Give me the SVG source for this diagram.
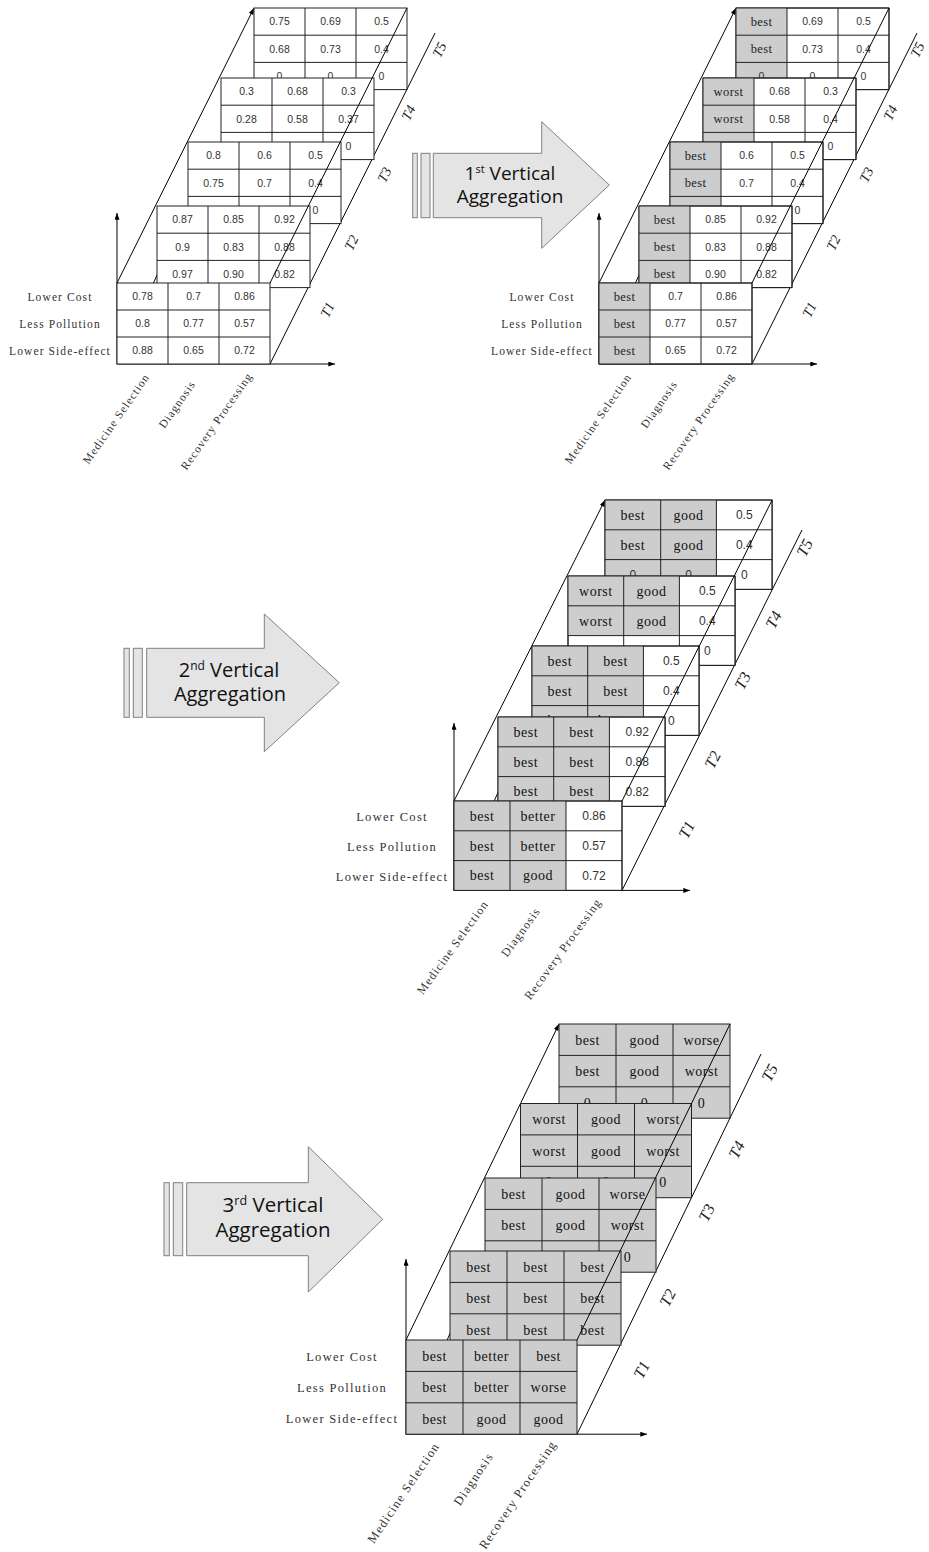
<svg xmlns="http://www.w3.org/2000/svg" width="929" height="1552" viewBox="0 0 929 1552">
<style>
.ln{stroke:#000;stroke-width:1;fill:none}
.tb{fill:#fff;stroke:#222;stroke-width:1}
.gy{fill:#cdcdcd;stroke:none}
.gr{stroke:#222;stroke-width:1;fill:none}
.n1{font-family:"Liberation Sans",Arial,sans-serif;font-size:10.5px;fill:#333;text-anchor:middle}
.w2{font-family:"Liberation Serif",serif;font-size:12.5px;letter-spacing:0.4px;fill:#222;text-anchor:middle}
.n3{font-family:"Liberation Sans",Arial,sans-serif;font-size:12px;fill:#333;text-anchor:middle}
.w3{font-family:"Liberation Serif",serif;font-size:14px;letter-spacing:0.5px;fill:#111;text-anchor:middle}
.lab1{font-family:"Liberation Serif",serif;font-size:11.5px;letter-spacing:1.1px;fill:#333;text-anchor:middle}
.lab3{font-family:"Liberation Serif",serif;font-size:12.5px;letter-spacing:1.3px;fill:#333;text-anchor:middle}
.col1{font-family:"Liberation Serif",serif;font-size:11.5px;letter-spacing:1px;fill:#333;text-anchor:end}
.col3{font-family:"Liberation Serif",serif;font-size:12px;letter-spacing:1.1px;fill:#333;text-anchor:end}
.col4{font-family:"Liberation Serif",serif;font-size:12.5px;letter-spacing:1.2px;fill:#333;text-anchor:end}
.tl1{font-family:"Liberation Serif",serif;font-style:italic;font-size:14px;fill:#222;text-anchor:middle}
.tl3{font-family:"Liberation Serif",serif;font-style:italic;font-size:16px;fill:#222;text-anchor:middle}
.arr{fill:#e4e4e4;stroke:#808080;stroke-width:1}
.at{font-family:"Open Sans","Noto Sans",sans-serif;fill:#111;text-anchor:middle}
</style>
<defs>
<marker id="ah" viewBox="0 0 8 6" refX="8" refY="3" markerWidth="7" markerHeight="5" markerUnits="userSpaceOnUse" orient="auto"><path d="M0 0L8 3L0 6z" fill="#000"/></marker>
</defs>
<rect width="929" height="1552" fill="#fff"/>

<!-- ========== Diagram 1 ========== -->
<g id="d1">
<g id="d1-connectors">
<path class="ln" d="M117 364V213" marker-end="url(#ah)"/>
<path class="ln" d="M117 364H335" marker-end="url(#ah)"/>
<path class="ln" d="M117 283L254 8" marker-end="url(#ah)"/>
<path class="ln" d="M117 364L162 264"/>
<path class="ln" d="M270 364L435 33"/>
</g>
<g id="d1-t5">
<rect class="tb" x="254" y="8" width="153" height="81.6"/>
<path class="gr" d="M305 8V89.6M356 8V89.6M254 35.2H407M254 62.4H407"/>
<text class="n1" x="279.5" y="25.4">0.75</text><text class="n1" x="330.5" y="25.4">0.69</text><text class="n1" x="381.5" y="25.4">0.5</text>
<text class="n1" x="279.5" y="52.6">0.68</text><text class="n1" x="330.5" y="52.6">0.73</text><text class="n1" x="381.5" y="52.6">0.4</text>
<text class="n1" x="279.5" y="79.8">0</text><text class="n1" x="330.5" y="79.8">0</text><text class="n1" x="381.5" y="79.8">0</text>
</g>
<g id="d1-t4">
<rect class="tb" x="221" y="78" width="153" height="81.6"/>
<path class="gr" d="M272 78V159.6M323 78V159.6M221 105.2H374M221 132.4H374"/>
<text class="n1" x="246.5" y="95.4">0.3</text><text class="n1" x="297.5" y="95.4">0.68</text><text class="n1" x="348.5" y="95.4">0.3</text>
<text class="n1" x="246.5" y="122.6">0.28</text><text class="n1" x="297.5" y="122.6">0.58</text><text class="n1" x="348.5" y="122.6">0.37</text>
<text class="n1" x="246.5" y="149.8">0</text><text class="n1" x="297.5" y="149.8">0</text><text class="n1" x="348.5" y="149.8">0</text>
</g>
<g id="d1-t3">
<rect class="tb" x="188" y="142" width="153" height="81.6"/>
<path class="gr" d="M239 142V223.6M290 142V223.6M188 169.2H341M188 196.4H341"/>
<text class="n1" x="213.5" y="159.4">0.8</text><text class="n1" x="264.5" y="159.4">0.6</text><text class="n1" x="315.5" y="159.4">0.5</text>
<text class="n1" x="213.5" y="186.6">0.75</text><text class="n1" x="264.5" y="186.6">0.7</text><text class="n1" x="315.5" y="186.6">0.4</text>
<text class="n1" x="213.5" y="213.8">0</text><text class="n1" x="264.5" y="213.8">0</text><text class="n1" x="315.5" y="213.8">0</text>
</g>
<g id="d1-t2">
<rect class="tb" x="157" y="206" width="153" height="81.6"/>
<path class="gr" d="M208 206V287.6M259 206V287.6M157 233.2H310M157 260.4H310"/>
<text class="n1" x="182.5" y="223.4">0.87</text><text class="n1" x="233.5" y="223.4">0.85</text><text class="n1" x="284.5" y="223.4">0.92</text>
<text class="n1" x="182.5" y="250.6">0.9</text><text class="n1" x="233.5" y="250.6">0.83</text><text class="n1" x="284.5" y="250.6">0.88</text>
<text class="n1" x="182.5" y="277.8">0.97</text><text class="n1" x="233.5" y="277.8">0.90</text><text class="n1" x="284.5" y="277.8">0.82</text>
</g>
<g id="d1-t1">
<rect class="tb" x="117" y="283" width="153" height="81"/>
<path class="gr" d="M168 283V364M219 283V364M117 310H270M117 337H270"/>
<text class="n1" x="142.5" y="300.3">0.78</text><text class="n1" x="193.5" y="300.3">0.7</text><text class="n1" x="244.5" y="300.3">0.86</text>
<text class="n1" x="142.5" y="327.3">0.8</text><text class="n1" x="193.5" y="327.3">0.77</text><text class="n1" x="244.5" y="327.3">0.57</text>
<text class="n1" x="142.5" y="354.3">0.88</text><text class="n1" x="193.5" y="354.3">0.65</text><text class="n1" x="244.5" y="354.3">0.72</text>
</g>
<g id="d1-front-edge"><path class="ln" d="M270 283L407 8"/></g>
<g id="d1-labels">
<text class="lab1" x="60" y="301">Lower Cost</text>
<text class="lab1" x="60" y="328">Less Pollution</text>
<text class="lab1" x="60" y="355">Lower Side-effect</text>
<text class="col1" transform="translate(150 377) rotate(-55)">Medicine Selection</text>
<text class="col1" transform="translate(196 384) rotate(-55)">Diagnosis</text>
<text class="col1" transform="translate(253 376) rotate(-55)">Recovery Processing</text>
<text class="tl1" transform="translate(328 310) rotate(-63)" y="4">T1</text>
<text class="tl1" transform="translate(352 243) rotate(-63)" y="4">T2</text>
<text class="tl1" transform="translate(385 175) rotate(-63)" y="4">T3</text>
<text class="tl1" transform="translate(409 113) rotate(-63)" y="4">T4</text>
<text class="tl1" transform="translate(440 50) rotate(-63)" y="4">T5</text>
</g>
</g>

<!-- ========== Arrow 1 ========== -->
<g id="arrow1">
<rect class="arr" x="412.7" y="153.3" width="4.6" height="64.4"/>
<rect class="arr" x="421" y="153.3" width="9" height="64.4"/>
<path class="arr" d="M433.3 153.3H541.7V121.7L609.3 185L541.7 248.3V217.7H433.3z"/>
<text class="at" font-size="19" x="510" y="180">1<tspan font-size="11" baseline-shift="7">st</tspan> Vertical</text>
<text class="at" font-size="19" x="510" y="203">Aggregation</text>
</g>

<!-- ========== Diagram 2 ========== -->
<g id="d2" transform="translate(482 0)">
<g id="d2-connectors">
<path class="ln" d="M117 364V213" marker-end="url(#ah)"/>
<path class="ln" d="M117 364H335" marker-end="url(#ah)"/>
<path class="ln" d="M117 283L254 8" marker-end="url(#ah)"/>
<path class="ln" d="M117 364L162 264"/>
<path class="ln" d="M270 364L435 33"/>
</g>
<g id="d2-t5">
<rect class="tb" x="254" y="8" width="153" height="81.6"/>
<rect class="gy" x="254" y="8" width="51" height="81.6"/>
<path class="gr" d="M254 8H407V89.6H254zM305 8V89.6M356 8V89.6M254 35.2H407M254 62.4H407"/>
<text class="w2" x="279.5" y="25.6">best</text><text class="n1" x="330.5" y="25.4">0.69</text><text class="n1" x="381.5" y="25.4">0.5</text>
<text class="w2" x="279.5" y="52.8">best</text><text class="n1" x="330.5" y="52.6">0.73</text><text class="n1" x="381.5" y="52.6">0.4</text>
<text class="n1" x="279.5" y="79.8">0</text><text class="n1" x="330.5" y="79.8">0</text><text class="n1" x="381.5" y="79.8">0</text>
</g>
<g id="d2-t4">
<rect class="tb" x="221" y="78" width="153" height="81.6"/>
<rect class="gy" x="221" y="78" width="51" height="81.6"/>
<path class="gr" d="M221 78H374V159.6H221zM272 78V159.6M323 78V159.6M221 105.2H374M221 132.4H374"/>
<text class="w2" x="246.5" y="95.6">worst</text><text class="n1" x="297.5" y="95.4">0.68</text><text class="n1" x="348.5" y="95.4">0.3</text>
<text class="w2" x="246.5" y="122.8">worst</text><text class="n1" x="297.5" y="122.6">0.58</text><text class="n1" x="348.5" y="122.6">0.4</text>
<text class="n1" x="246.5" y="149.8">0</text><text class="n1" x="297.5" y="149.8">0</text><text class="n1" x="348.5" y="149.8">0</text>
</g>
<g id="d2-t3">
<rect class="tb" x="188" y="142" width="153" height="81.6"/>
<rect class="gy" x="188" y="142" width="51" height="81.6"/>
<path class="gr" d="M188 142H341V223.6H188zM239 142V223.6M290 142V223.6M188 169.2H341M188 196.4H341"/>
<text class="w2" x="213.5" y="159.6">best</text><text class="n1" x="264.5" y="159.4">0.6</text><text class="n1" x="315.5" y="159.4">0.5</text>
<text class="w2" x="213.5" y="186.8">best</text><text class="n1" x="264.5" y="186.6">0.7</text><text class="n1" x="315.5" y="186.6">0.4</text>
<text class="n1" x="213.5" y="213.8">0</text><text class="n1" x="264.5" y="213.8">0</text><text class="n1" x="315.5" y="213.8">0</text>
</g>
<g id="d2-t2">
<rect class="tb" x="157" y="206" width="153" height="81.6"/>
<rect class="gy" x="157" y="206" width="51" height="81.6"/>
<path class="gr" d="M157 206H310V287.6H157zM208 206V287.6M259 206V287.6M157 233.2H310M157 260.4H310"/>
<text class="w2" x="182.5" y="223.6">best</text><text class="n1" x="233.5" y="223.4">0.85</text><text class="n1" x="284.5" y="223.4">0.92</text>
<text class="w2" x="182.5" y="250.8">best</text><text class="n1" x="233.5" y="250.6">0.83</text><text class="n1" x="284.5" y="250.6">0.88</text>
<text class="w2" x="182.5" y="278">best</text><text class="n1" x="233.5" y="277.8">0.90</text><text class="n1" x="284.5" y="277.8">0.82</text>
</g>
<g id="d2-t1">
<rect class="tb" x="117" y="283" width="153" height="81"/>
<rect class="gy" x="117" y="283" width="51" height="81"/>
<path class="gr" d="M117 283H270V364H117zM168 283V364M219 283V364M117 310H270M117 337H270"/>
<text class="w2" x="142.5" y="300.5">best</text><text class="n1" x="193.5" y="300.3">0.7</text><text class="n1" x="244.5" y="300.3">0.86</text>
<text class="w2" x="142.5" y="327.5">best</text><text class="n1" x="193.5" y="327.3">0.77</text><text class="n1" x="244.5" y="327.3">0.57</text>
<text class="w2" x="142.5" y="354.5">best</text><text class="n1" x="193.5" y="354.3">0.65</text><text class="n1" x="244.5" y="354.3">0.72</text>
</g>
<g id="d2-front-edge"><path class="ln" d="M270 283L407 8"/></g>
<g id="d2-labels">
<text class="lab1" x="60" y="301">Lower Cost</text>
<text class="lab1" x="60" y="328">Less Pollution</text>
<text class="lab1" x="60" y="355">Lower Side-effect</text>
<text class="col1" transform="translate(150 377) rotate(-55)">Medicine Selection</text>
<text class="col1" transform="translate(196 384) rotate(-55)">Diagnosis</text>
<text class="col1" transform="translate(253 376) rotate(-55)">Recovery Processing</text>
<text class="tl1" transform="translate(328 310) rotate(-63)" y="4">T1</text>
<text class="tl1" transform="translate(352 243) rotate(-63)" y="4">T2</text>
<text class="tl1" transform="translate(385 175) rotate(-63)" y="4">T3</text>
<text class="tl1" transform="translate(409 113) rotate(-63)" y="4">T4</text>
<text class="tl1" transform="translate(436 50) rotate(-63)" y="4">T5</text>
</g>
</g>

<!-- ========== Arrow 2 ========== -->
<g id="arrow2">
<rect class="arr" x="124" y="648.3" width="5.3" height="69"/>
<rect class="arr" x="133.3" y="648.3" width="9" height="69"/>
<path class="arr" d="M146.7 648.3H264.3V614L339.3 682.7L264.3 751.7V717.3H146.7z"/>
<text class="at" font-size="20" x="229" y="677">2<tspan font-size="12" baseline-shift="7">nd</tspan> Vertical</text>
<text class="at" font-size="20" x="230" y="701">Aggregation</text>
</g>

<!-- ========== Diagram 3 ========== -->
<g id="d3">
<g id="d3-connectors">
<path class="ln" d="M454 890.4V723" marker-end="url(#ah)"/>
<path class="ln" d="M454 890.4H690" marker-end="url(#ah)"/>
<path class="ln" d="M454 801L605 500" marker-end="url(#ah)"/>
<path class="ln" d="M454 890.4L500 788"/>
<path class="ln" d="M622 890.4L802 530"/>
</g>
<g id="d3-t5">
<rect class="tb" x="605" y="500" width="167.1" height="89.4"/>
<rect class="gy" x="605" y="500" width="111.4" height="89.4"/>
<path class="gr" d="M605 500H772.1V589.4H605zM660.7 500V589.4M716.4 500V589.4M605 529.8H772.1M605 559.6H772.1"/>
<text class="w3" x="632.85" y="519.7">best</text><text class="w3" x="688.55" y="519.7">good</text><text class="n3" x="744.25" y="519.2">0.5</text>
<text class="w3" x="632.85" y="549.5">best</text><text class="w3" x="688.55" y="549.5">good</text><text class="n3" x="744.25" y="549">0.4</text>
<text class="n3" x="632.85" y="578.8">0</text><text class="n3" x="688.55" y="578.8">0</text><text class="n3" x="744.25" y="578.8">0</text>
</g>
<g id="d3-t4">
<rect class="tb" x="568" y="576" width="167.1" height="89.4"/>
<rect class="gy" x="568" y="576" width="111.4" height="59.6"/>
<path class="gr" d="M568 576H735.1V665.4H568zM623.7 576V665.4M679.4 576V665.4M568 605.8H735.1M568 635.6H735.1"/>
<text class="w3" x="595.85" y="595.7">worst</text><text class="w3" x="651.55" y="595.7">good</text><text class="n3" x="707.25" y="595.2">0.5</text>
<text class="w3" x="595.85" y="625.5">worst</text><text class="w3" x="651.55" y="625.5">good</text><text class="n3" x="707.25" y="625">0.4</text>
<text class="n3" x="707.25" y="654.8">0</text>
</g>
<g id="d3-t3">
<rect class="tb" x="532" y="646" width="167.1" height="89.4"/>
<rect class="gy" x="532" y="646" width="111.4" height="89.4"/>
<path class="gr" d="M532 646H699.1V735.4H532zM587.7 646V735.4M643.4 646V735.4M532 675.8H699.1M532 705.6H699.1"/>
<text class="w3" x="559.85" y="665.7">best</text><text class="w3" x="615.55" y="665.7">best</text><text class="n3" x="671.25" y="665.2">0.5</text>
<text class="w3" x="559.85" y="695.5">best</text><text class="w3" x="615.55" y="695.5">best</text><text class="n3" x="671.25" y="695">0.4</text>
<text class="w3" x="559.85" y="725.3">best</text><text class="w3" x="615.55" y="725.3">better</text><text class="n3" x="671.25" y="724.8">0</text>
</g>
<g id="d3-t2">
<rect class="tb" x="498" y="717" width="167.1" height="89.4"/>
<rect class="gy" x="498" y="717" width="111.4" height="89.4"/>
<path class="gr" d="M498 717H665.1V806.4H498zM553.7 717V806.4M609.4 717V806.4M498 746.8H665.1M498 776.6H665.1"/>
<text class="w3" x="525.85" y="736.7">best</text><text class="w3" x="581.55" y="736.7">best</text><text class="n3" x="637.25" y="736.2">0.92</text>
<text class="w3" x="525.85" y="766.5">best</text><text class="w3" x="581.55" y="766.5">best</text><text class="n3" x="637.25" y="766">0.88</text>
<text class="w3" x="525.85" y="796.3">best</text><text class="w3" x="581.55" y="796.3">best</text><text class="n3" x="637.25" y="795.8">0.82</text>
</g>
<g id="d3-t1">
<rect class="tb" x="454" y="801" width="168" height="89.4"/>
<rect class="gy" x="454" y="801" width="112" height="89.4"/>
<path class="gr" d="M454 801H622V890.4H454zM510 801V890.4M566 801V890.4M454 830.8H622M454 860.6H622"/>
<text class="w3" x="482" y="820.7">best</text><text class="w3" x="538" y="820.7">better</text><text class="n3" x="594" y="820.2">0.86</text>
<text class="w3" x="482" y="850.5">best</text><text class="w3" x="538" y="850.5">better</text><text class="n3" x="594" y="850">0.57</text>
<text class="w3" x="482" y="880.3">best</text><text class="w3" x="538" y="880.3">good</text><text class="n3" x="594" y="879.8">0.72</text>
</g>
<g id="d3-front-edge"><path class="ln" d="M622 801L772.1 500"/></g>
<g id="d3-labels">
<text class="lab3" x="392" y="820.5">Lower Cost</text>
<text class="lab3" x="392" y="850.5">Less Pollution</text>
<text class="lab3" x="392" y="880.5">Lower Side-effect</text>
<text class="col3" transform="translate(489 904) rotate(-54)">Medicine Selection</text>
<text class="col3" transform="translate(541 911) rotate(-54)">Diagnosis</text>
<text class="col3" transform="translate(602 902) rotate(-54)">Recovery Processing</text>
<text class="tl3" transform="translate(687 830) rotate(-63)" y="5">T1</text>
<text class="tl3" transform="translate(713 760) rotate(-63)" y="5">T2</text>
<text class="tl3" transform="translate(743 681) rotate(-63)" y="5">T3</text>
<text class="tl3" transform="translate(774 620) rotate(-63)" y="5">T4</text>
<text class="tl3" transform="translate(805 548) rotate(-63)" y="5">T5</text>
</g>
</g>

<!-- ========== Arrow 3 ========== -->
<g id="arrow3">
<rect class="arr" x="164" y="1182.7" width="5.3" height="73"/>
<rect class="arr" x="173.3" y="1182.7" width="9.4" height="73"/>
<path class="arr" d="M186.7 1182.7H308.3V1146.7L382.7 1219.3L308.3 1292V1255.7H186.7z"/>
<text class="at" font-size="20.5" x="273" y="1212">3<tspan font-size="12.5" baseline-shift="7">rd</tspan> Vertical</text>
<text class="at" font-size="20.5" x="273" y="1237">Aggregation</text>
</g>

<!-- ========== Diagram 4 ========== -->
<g id="d4">
<g id="d4-connectors">
<path class="ln" d="M406 1434.2V1259" marker-end="url(#ah)"/>
<path class="ln" d="M406 1434.2H647" marker-end="url(#ah)"/>
<path class="ln" d="M406 1340L559 1024" marker-end="url(#ah)"/>
<path class="ln" d="M406 1434.2L455 1322"/>
<path class="ln" d="M577 1434.2L761 1054"/>
</g>
<g id="d4-t5">
<rect class="tb" x="559" y="1024" width="171" height="94.2" style="fill:#cdcdcd"/>
<path class="gr" d="M616 1024V1118.2M673 1024V1118.2M559 1055.4H730M559 1086.8H730"/>
<text class="w3" x="587.5" y="1044.7">best</text><text class="w3" x="644.5" y="1044.7">good</text><text class="w3" x="701.5" y="1044.7">worse</text>
<text class="w3" x="587.5" y="1076.1">best</text><text class="w3" x="644.5" y="1076.1">good</text><text class="w3" x="701.5" y="1076.1">worst</text>
<text class="w3" x="587.5" y="1107.5">0</text><text class="w3" x="644.5" y="1107.5">0</text><text class="w3" x="701.5" y="1107.5">0</text>
</g>
<g id="d4-t4">
<rect class="tb" x="520.5" y="1103.5" width="171" height="94.2" style="fill:#cdcdcd"/>
<path class="gr" d="M577.5 1103.5V1197.7M634.5 1103.5V1197.7M520.5 1134.9H691.5M520.5 1166.3H691.5"/>
<text class="w3" x="549" y="1124.2">worst</text><text class="w3" x="606" y="1124.2">good</text><text class="w3" x="663" y="1124.2">worst</text>
<text class="w3" x="549" y="1155.6">worst</text><text class="w3" x="606" y="1155.6">good</text><text class="w3" x="663" y="1155.6">worst</text>
<text class="w3" x="549" y="1187">0</text><text class="w3" x="606" y="1187">0</text><text class="w3" x="663" y="1187">0</text>
</g>
<g id="d4-t3">
<rect class="tb" x="485" y="1178" width="171" height="94.2" style="fill:#cdcdcd"/>
<path class="gr" d="M542 1178V1272.2M599 1178V1272.2M485 1209.4H656M485 1240.8H656"/>
<text class="w3" x="513.5" y="1198.7">best</text><text class="w3" x="570.5" y="1198.7">good</text><text class="w3" x="627.5" y="1198.7">worse</text>
<text class="w3" x="513.5" y="1230.1">best</text><text class="w3" x="570.5" y="1230.1">good</text><text class="w3" x="627.5" y="1230.1">worst</text>
<text class="w3" x="513.5" y="1261.5">0</text><text class="w3" x="570.5" y="1261.5">0</text><text class="w3" x="627.5" y="1261.5">0</text>
</g>
<g id="d4-t2">
<rect class="tb" x="450" y="1251" width="171" height="94.2" style="fill:#cdcdcd"/>
<path class="gr" d="M507 1251V1345.2M564 1251V1345.2M450 1282.4H621M450 1313.8H621"/>
<text class="w3" x="478.5" y="1271.7">best</text><text class="w3" x="535.5" y="1271.7">best</text><text class="w3" x="592.5" y="1271.7">best</text>
<text class="w3" x="478.5" y="1303.1">best</text><text class="w3" x="535.5" y="1303.1">best</text><text class="w3" x="592.5" y="1303.1">best</text>
<text class="w3" x="478.5" y="1334.5">best</text><text class="w3" x="535.5" y="1334.5">best</text><text class="w3" x="592.5" y="1334.5">best</text>
</g>
<g id="d4-t1">
<rect class="tb" x="406" y="1340" width="171" height="94.2" style="fill:#cdcdcd"/>
<path class="gr" d="M463 1340V1434.2M520 1340V1434.2M406 1371.4H577M406 1402.8H577"/>
<text class="w3" x="434.5" y="1360.7">best</text><text class="w3" x="491.5" y="1360.7">better</text><text class="w3" x="548.5" y="1360.7">best</text>
<text class="w3" x="434.5" y="1392.1">best</text><text class="w3" x="491.5" y="1392.1">better</text><text class="w3" x="548.5" y="1392.1">worse</text>
<text class="w3" x="434.5" y="1423.5">best</text><text class="w3" x="491.5" y="1423.5">good</text><text class="w3" x="548.5" y="1423.5">good</text>
</g>
<g id="d4-front-edge"><path class="ln" d="M577 1340L730 1024"/></g>
<g id="d4-labels">
<text class="lab3" x="342" y="1360.5">Lower Cost</text>
<text class="lab3" x="342" y="1392">Less Pollution</text>
<text class="lab3" x="342" y="1422.5">Lower Side-effect</text>
<text class="col4" transform="translate(440 1446) rotate(-56)">Medicine Selection</text>
<text class="col4" transform="translate(494 1456) rotate(-56)">Diagnosis</text>
<text class="col4" transform="translate(557 1444) rotate(-56)">Recovery Processing</text>
<text class="tl3" transform="translate(642 1370) rotate(-63)" y="5">T1</text>
<text class="tl3" transform="translate(668 1298) rotate(-63)" y="5">T2</text>
<text class="tl3" transform="translate(707 1213) rotate(-63)" y="5">T3</text>
<text class="tl3" transform="translate(737 1150) rotate(-63)" y="5">T4</text>
<text class="tl3" transform="translate(770 1073) rotate(-63)" y="5">T5</text>
</g>
</g>
</svg>
